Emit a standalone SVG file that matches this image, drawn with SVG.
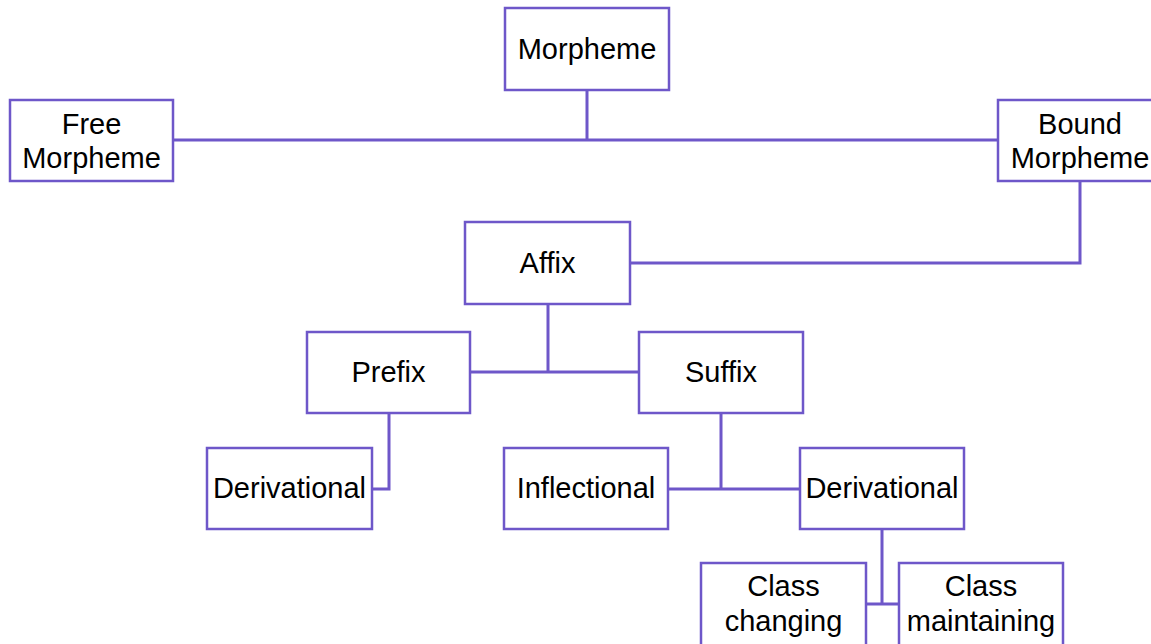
<svg xmlns="http://www.w3.org/2000/svg" width="1151" height="644" viewBox="0 0 1151 644">
<style>
.box{fill:#ffffff;stroke:#6E57C9;stroke-width:2.5}
.ln{fill:none;stroke:#6E57C9;stroke-width:3}
text{font-family:"Liberation Sans",Arial,sans-serif;font-size:29px;fill:#000;text-anchor:middle}
</style>
<rect width="1151" height="644" fill="#ffffff"/>
<g id="connectors">
<path class="ln" d="M587 90V140M173 140H998"/>
<path class="ln" d="M1080 181V263H630"/>
<path class="ln" d="M548 304V372M470 372H639"/>
<path class="ln" d="M389 413V489H372"/>
<path class="ln" d="M721 413V489M668 489H800"/>
<path class="ln" d="M882 529V604M866 604H899"/>
</g>
<g id="morpheme"><rect class="box" x="505" y="8" width="164" height="82"/><text x="587" y="59">Morpheme</text></g>
<g id="free"><rect class="box" x="10" y="100" width="163" height="81"/><text x="91.500" y="134">Free</text><text x="91.500" y="168">Morpheme</text></g>
<g id="bound"><rect class="box" x="998" y="100" width="164" height="81"/><text x="1080" y="134">Bound</text><text x="1080" y="168">Morpheme</text></g>
<g id="affix"><rect class="box" x="465" y="222" width="165" height="82"/><text x="547.500" y="273">Affix</text></g>
<g id="prefix"><rect class="box" x="307" y="332" width="163" height="81"/><text x="388.500" y="382">Prefix</text></g>
<g id="suffix"><rect class="box" x="639" y="332" width="164" height="81"/><text x="721" y="382">Suffix</text></g>
<g id="derivational1"><rect class="box" x="207" y="448" width="165" height="81"/><text x="289.500" y="498">Derivational</text></g>
<g id="inflectional"><rect class="box" x="504" y="448" width="164" height="81"/><text x="586" y="498">Inflectional</text></g>
<g id="derivational2"><rect class="box" x="800" y="448" width="164" height="81"/><text x="882" y="498">Derivational</text></g>
<g id="classchanging"><rect class="box" x="701" y="563" width="165" height="84"/><text x="783.500" y="596">Class</text><text x="783.500" y="631">changing</text></g>
<g id="classmaintaining"><rect class="box" x="899" y="563" width="164" height="84"/><text x="981" y="596">Class</text><text x="981" y="631">maintaining</text></g>
</svg>
